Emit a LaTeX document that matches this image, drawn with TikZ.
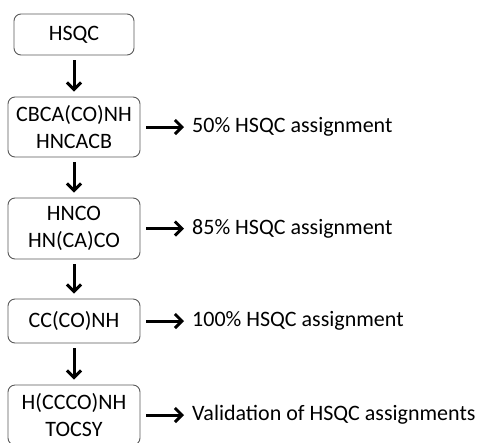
\documentclass[tikz,border=0pt]{standalone}
\usepackage{fontspec}
\setmainfont{Carlito}
\usetikzlibrary{arrows.meta}
\begin{document}
\begin{tikzpicture}[x=1pt,y=-1pt,
  box/.style={draw=black!65, line width=0.9pt, rounded corners=7pt, align=center,
    font=\fontsize{22}{27}\selectfont, inner sep=0pt},
  lab/.style={anchor=west, inner xsep=8pt, inner ysep=0pt, font=\fontsize{22}{27}\selectfont},
  arr/.style={line width=3pt, -{Straight Barb[length=7pt,width=14pt]}}]
\useasboundingbox (0,0) rectangle (484,442);
\node[box, minimum width=120pt, minimum height=41pt] (a) at (74,34.5) {HSQC};
\node[box, minimum width=132pt, minimum height=60pt] (b) at (74,127) {CBCA(CO)NH\\HNCACB};
\node[box, minimum width=132pt, minimum height=61pt] (c) at (74,228.5) {HNCO\\HN(CA)CO};
\node[box, minimum width=132pt, minimum height=44pt] (d) at (74,321) {CC(CO)NH};
\node[box, minimum width=132pt, minimum height=60pt] (e) at (74,415) {H(CCCO)NH\\TOCSY};
\node[lab] (tb) at (184,127) {50\% HSQC assignment};
\node[lab] (tc) at (184,228.5) {85\% HSQC assignment};
\node[lab] (td) at (184,321) {100\% HSQC assignment};
\node[lab] (te) at (184,415) {Validation of HSQC assignments};
\draw[arr] ([yshift=-5pt]a.south) -- ([yshift=5pt]b.north);
\draw[arr] ([yshift=-5pt]b.south) -- ([yshift=5pt]c.north);
\draw[arr] ([yshift=-5pt]c.south) -- ([yshift=5pt]d.north);
\draw[arr] ([yshift=-5pt]d.south) -- ([yshift=5pt]e.north);
\draw[arr] ([xshift=6pt]b.east) -- (tb.west);
\draw[arr] ([xshift=6pt]c.east) -- (tc.west);
\draw[arr] ([xshift=6pt]d.east) -- (td.west);
\draw[arr] ([xshift=6pt]e.east) -- (te.west);
\end{tikzpicture}
\end{document}
